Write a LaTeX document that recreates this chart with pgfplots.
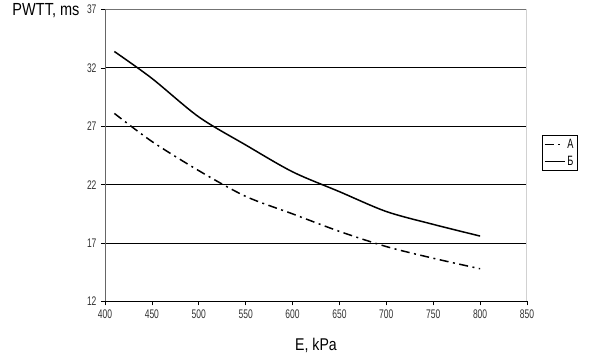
\documentclass[border=0pt]{standalone}
\usepackage{fontspec}
\setmainfont{Liberation Sans}
\newfontfamily\titlefont[FakeStretch=0.83]{Liberation Sans}
\newfontfamily\tickfont[FakeStretch=0.68]{Liberation Sans}
\usepackage{pgfplots}
\pgfplotsset{compat=1.18}
\begin{document}
\begin{tikzpicture}
\begin{axis}[
  scale only axis,
  width=422pt, height=292pt,
  xmin=400, xmax=850, ymin=12, ymax=37,
  xtick={400,450,...,850},
  ytick={12,37},
  extra y ticks={17,22,27,32},
  extra y tick style={grid=major},
  grid style={black, line width=0.9pt},
  axis line style={draw=none},
  xtick pos=bottom, ytick pos=left,
  tick align=outside,
  major tick length=4pt,
  tick style={black, line width=0.7pt},
  /pgf/number format/assume math mode=true,
  tick label style={font=\tickfont\fontsize{12.5}{13}\selectfont, text=black!80},
  xticklabel style={yshift=-1pt},
  yticklabel style={xshift=-1pt},
  xlabel={E, kPa},
  xlabel style={font=\titlefont\fontsize{17}{18}\selectfont, at={(rel axis cs:0.5,0)}, anchor=center, yshift=-44pt},
  ylabel={PWTT, ms},
  ylabel style={font=\titlefont\fontsize{17.5}{18}\selectfont, rotate=-90, at={(rel axis cs:0,1)}, anchor=east, xshift=-22pt, yshift=-1pt},
  legend style={at={(rel axis cs:1.0355,0.5685)}, anchor=north west, draw=black, line width=0.6pt,
    font=\tickfont\fontsize{13.5}{14}\selectfont, inner sep=1.5pt, row sep=2pt,
    legend cell align=left},
  legend image code/.code={\draw[#1] (0pt,0pt) -- (20pt,0pt);},
  legend image post style={line width=1.5pt},
]
\addplot[black, line width=1.5pt, smooth, tension=0.5,
  dash pattern=on 9pt off 4.5pt on 2pt off 4.5pt] coordinates {
  (410,28.1) (450,25.7) (500,23.2) (550,21.0) (600,19.5)
  (650,18.0) (700,16.7) (750,15.7) (800,14.8)
};
\addlegendentry{А}
\addplot[black, line width=1.5pt, smooth, tension=0.5] coordinates {
  (410,33.4) (450,31.1) (500,27.8) (550,25.4) (600,23.1)
  (650,21.4) (700,19.7) (750,18.6) (800,17.6)
};
\addlegendentry{Б}
\draw[black!55, line width=1pt] (rel axis cs:0,1) -- (rel axis cs:1,1);
\draw[black!18, line width=1.2pt] (rel axis cs:1,0) -- (rel axis cs:1,1);
\draw[black!60, line width=0.9pt] (rel axis cs:0,0) -- (rel axis cs:0,1);
\draw[black, line width=0.9pt] (rel axis cs:0,0) -- (rel axis cs:1,0);
\end{axis}
\useasboundingbox (-105pt,-53pt) rectangle (485pt,301pt);
\end{tikzpicture}
\end{document}
